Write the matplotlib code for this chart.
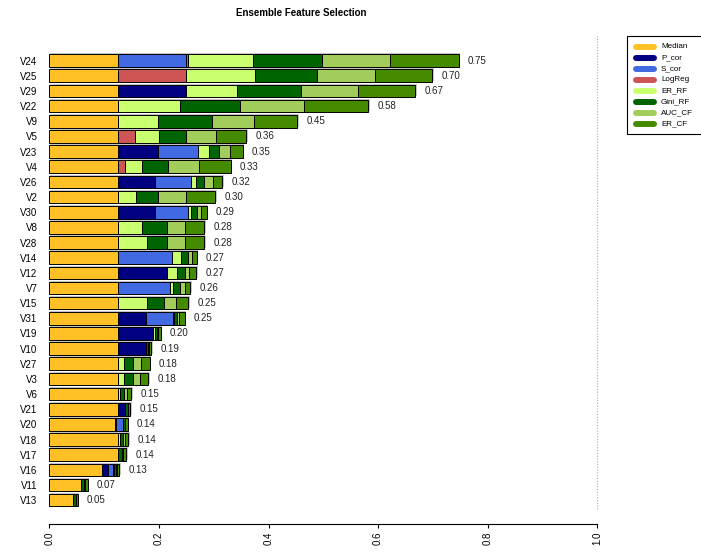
import matplotlib
matplotlib.use("Agg")
import matplotlib.pyplot as plt
import numpy as np
from matplotlib.lines import Line2D
from matplotlib.patches import Rectangle

plt.rcParams["font.family"] = ["Liberation Sans", "DejaVu Sans"]

# features, top to bottom, with each method's share of the ensemble score
features = ["V24", "V25", "V29", "V22", "V9", "V5", "V23", "V4", "V26", "V2",
            "V30", "V8", "V28", "V14", "V12", "V7", "V15", "V31", "V19", "V10",
            "V27", "V3", "V6", "V21", "V20", "V18", "V17", "V16", "V11", "V13"]

median = [0.125, 0.125, 0.125, 0.125, 0.125, 0.125, 0.125, 0.125, 0.125, 0.125,
          0.125, 0.125, 0.125, 0.125, 0.125, 0.125, 0.125, 0.125, 0.125, 0.125,
          0.125, 0.125, 0.125, 0.125, 0.120, 0.125, 0.125, 0.097, 0.057, 0.044]
p_cor = [0, 0, 0.125, 0, 0, 0, 0.073, 0, 0.067, 0,
         0.067, 0, 0, 0, 0.090, 0, 0, 0.052, 0.065, 0.052,
         0, 0, 0, 0.013, 0.002, 0, 0, 0.011, 0, 0]
s_cor = [0.125, 0, 0, 0, 0, 0, 0.074, 0, 0.066, 0,
         0.061, 0, 0, 0.099, 0, 0.096, 0, 0.049, 0, 0,
         0, 0, 0, 0, 0.012, 0, 0, 0.008, 0, 0]
log_reg = [0.003, 0.125, 0, 0, 0, 0.031, 0, 0.013, 0, 0,
           0, 0, 0, 0, 0, 0, 0, 0, 0, 0,
           0, 0, 0, 0, 0, 0, 0, 0, 0, 0]
er_rf = [0.119, 0.125, 0.092, 0.114, 0.073, 0.044, 0.019, 0.032, 0.010, 0.034,
         0.005, 0.044, 0.054, 0.017, 0.018, 0.004, 0.053, 0.002, 0.002, 0,
         0.011, 0.012, 0.004, 0, 0, 0.004, 0.001, 0.002, 0, 0]
gini_rf = [0.125, 0.114, 0.117, 0.109, 0.099, 0.050, 0.018, 0.046, 0.015, 0.039,
           0.012, 0.045, 0.035, 0.013, 0.015, 0.013, 0.032, 0.005, 0.004, 0.004,
           0.016, 0.016, 0.007, 0.005, 0.004, 0.006, 0.006, 0.004, 0.006, 0.004]
auc_cf = [0.125, 0.105, 0.105, 0.116, 0.077, 0.055, 0.021, 0.057, 0.016, 0.052,
          0.007, 0.034, 0.034, 0.007, 0.007, 0.009, 0.022, 0.004, 0.003, 0.001,
          0.015, 0.013, 0.005, 0.001, 0.001, 0.003, 0.002, 0.001, 0.002, 0.001]
er_cf = [0.125, 0.105, 0.104, 0.118, 0.078, 0.054, 0.023, 0.058, 0.017, 0.053,
         0.010, 0.035, 0.035, 0.008, 0.013, 0.010, 0.022, 0.010, 0.004, 0.004,
         0.016, 0.015, 0.008, 0.004, 0.004, 0.006, 0.006, 0.004, 0.005, 0.003]

methods = ["Median", "P_cor", "S_cor", "LogReg", "ER_RF", "Gini_RF", "AUC_CF", "ER_CF"]
colors = ["#FFC125", "#000080", "#4169E1", "#CD5555",
          "#CAFF70", "#006400", "#A2CD5A", "#458B00"]
x_ticks = [0.0, 0.2, 0.4, 0.6, 0.8, 1.0]

W, H = 701, 556
fig = plt.figure(figsize=(W / 100, H / 100), dpi=100)

# plot region in pixels: x=0 at 49.3, x=1 at 597.3, top 36, bottom 509
left, right, top, bottom = 49.3, 597.3, 36, 509
ax = fig.add_axes([left / W, (H - bottom) / H, (right - left) / W, (bottom - top) / H])

# spine placement first: set_position resets the tick setup
for side in ["left", "right", "top"]:
    ax.spines[side].set_visible(False)
ax.spines["bottom"].set_position(("outward", 10.8))
ax.spines["bottom"].set_linewidth(0.8)

segments = np.array([median, p_cor, s_cor, log_reg, er_rf, gini_rf, auc_cf, er_cf])
totals = segments.sum(axis=0)
n = len(features)
ypos = 0.7 + 1.2 * np.arange(n)[::-1]  # first feature on top
px_per_unit_y = 12.63

# faint grey shadow behind each bar
ax.barh(ypos + 1 / px_per_unit_y, totals + 0.001, height=1.0, left=0.002,
        color="#c4c4c4", edgecolor="none", zorder=1)

cum = np.zeros(n)
for vals, col in zip(segments, colors):
    mask = vals > 0
    ax.barh(ypos[mask], vals[mask], height=1.0, left=cum[mask], color=col,
            edgecolor="black", linewidth=0.7, zorder=2)
    cum += vals

for y, t in zip(ypos, totals):
    ax.text(t + 0.017, y, f"{t:.2f}", ha="left", va="center", fontsize=7,
            color="#222222")

ax.axvline(1.0, color="#aaaaaa", linestyle=(0, (1, 1.5)), linewidth=0.8,
           clip_on=False)

ax.set_xlim(0, 1)
ax.set_ylim(0, (bottom - top) / px_per_unit_y)
ax.set_yticks(ypos)
ax.set_yticklabels(features, fontsize=7)
ax.tick_params(axis="y", length=0, pad=8.5)
ax.set_xticks(x_ticks)
ax.set_xticklabels([f"{v:.1f}" for v in x_ticks], rotation=90, fontsize=7)
ax.tick_params(axis="x", length=3.2, width=0.8, pad=2.5)

fig.text(301 / W, 1 - 13 / H, "Ensemble Feature Selection", ha="center",
         va="center", fontsize=7, fontweight="bold")

# legend box, running off the right edge of the figure
fig.add_artist(Rectangle((627 / W, 1 - 134 / H), 90 / W, 98 / H,
                         transform=fig.transFigure, facecolor="white",
                         edgecolor="black", linewidth=0.8, clip_on=False))
for i, (name, col) in enumerate(zip(methods, colors)):
    yy = 1 - (46.7 + 11.04 * i) / H
    fig.add_artist(Line2D([635.5 / W, 653.5 / W], [yy, yy], transform=fig.transFigure,
                          color=col, linewidth=4.3, solid_capstyle="round"))
    fig.text(661 / W, yy, name, ha="left", va="center", fontsize=5.8)

fig.savefig("out.png", dpi=100)
